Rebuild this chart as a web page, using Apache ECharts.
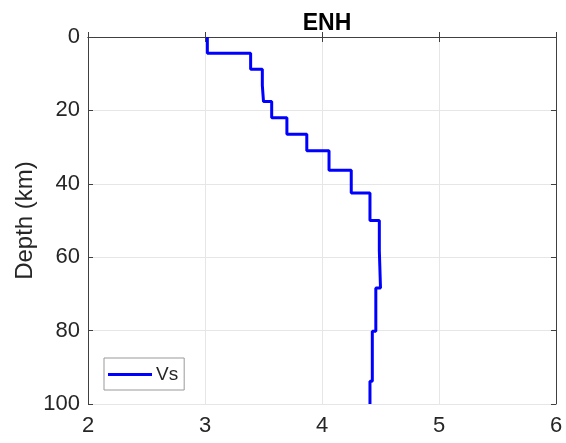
<!DOCTYPE html>
<html>
<head>
<meta charset="utf-8">
<script src="https://cdn.jsdelivr.net/npm/echarts@6/dist/echarts.min.js"></script>
<style>
  html, body { margin: 0; padding: 0; background: #fff; }
  #chart { width: 566px; height: 443px; }
</style>
</head>
<body>
<div id="chart"></div>
<script>
// layer tops (km) and shear velocity per layer (km/s)
const layerTop = [0, 4.4, 8.8, 13.2, 17.6, 22.0, 26.5, 31.0, 36.3, 42.5, 50.0, 58.2, 68.4, 80.2, 93.8]
const bottomDepth = 100
const vs = [3.02, 3.39, 3.49, 3.50, 3.57, 3.70, 3.87, 4.06, 4.25, 4.41, 4.49, 4.50, 4.46, 4.43, 4.41]
const xTicks = [2, 3, 4, 5, 6]
const yTicks = [0, 20, 40, 60, 80, 100]

// step profile: each layer gives a vertical segment
const profile = []
vs.forEach((v, i) => {
  const bot = i < layerTop.length - 1 ? layerTop[i + 1] : bottomDepth
  profile.push([v, layerTop[i]])
  profile.push([v, bot])
})

const txt = "#262626"
const axisCol = "#404040"
const gridCol = "#e6e6e6"
const font = "Liberation Sans, Arial, sans-serif"

const chart = echarts.init(document.getElementById("chart"))
const option = {
  animation: false,
  title: {
    text: "ENH",
    left: 322,
    textAlign: "center",
    top: 7,
    textStyle: { fontSize: 23, fontWeight: "bold", color: "#000", fontFamily: font }
  },
  legend: {
    left: 104,
    top: 358,
    itemWidth: 44,
    itemHeight: 3,
    icon: "rect",
    itemGap: 4,
    padding: [7, 6, 6, 4],
    borderColor: "#999",
    borderWidth: 1,
    backgroundColor: "#fff",
    textStyle: { fontSize: 19, color: txt, fontFamily: font, padding: [0, 0, 0, -1] },
    data: ["Vs"]
  },
  grid: { left: 88, right: 10, top: 37, bottom: 39 },
  xAxis: [
    {
      type: "value",
      min: xTicks[0],
      max: xTicks[xTicks.length - 1],
      interval: 1,
      position: "bottom",
      axisLine: { lineStyle: { color: axisCol, width: 1 } },
      axisTick: { inside: true, length: 5, lineStyle: { color: axisCol } },
      axisLabel: { fontSize: 22, color: txt, margin: 11, fontFamily: font },
      splitLine: { show: true, lineStyle: { color: gridCol } }
    },
    {
      type: "value",
      min: xTicks[0],
      max: xTicks[xTicks.length - 1],
      interval: 1,
      position: "top",
      axisLine: { show: true, lineStyle: { color: axisCol, width: 1 } },
      axisTick: { show: true, inside: true, length: 5, lineStyle: { color: axisCol } },
      axisLabel: { show: false },
      splitLine: { show: false }
    }
  ],
  yAxis: [
    {
      type: "value",
      inverse: true,
      min: yTicks[0],
      max: yTicks[yTicks.length - 1],
      interval: 20,
      position: "left",
      name: "Depth (km)",
      nameLocation: "middle",
      nameGap: 51,
      nameMoveOverlap: false,
      nameTextStyle: { fontSize: 24, color: txt, fontFamily: font },
      axisLine: { show: true, lineStyle: { color: axisCol, width: 1 } },
      axisTick: { show: true, inside: true, length: 5, lineStyle: { color: axisCol } },
      axisLabel: { fontSize: 22, color: txt, margin: 8, fontFamily: font },
      splitLine: { show: true, lineStyle: { color: gridCol } }
    },
    {
      type: "value",
      inverse: true,
      min: yTicks[0],
      max: yTicks[yTicks.length - 1],
      interval: 20,
      position: "right",
      axisLine: { show: true, lineStyle: { color: axisCol, width: 1 } },
      axisTick: { show: true, inside: true, length: 5, lineStyle: { color: axisCol } },
      axisLabel: { show: false },
      splitLine: { show: false }
    }
  ],
  series: [
    {
      name: "Vs",
      type: "line",
      data: profile,
      symbol: "none",
      lineStyle: { color: "#0000ff", width: 3 },
      itemStyle: { color: "#0000ff" }
    }
  ]
}
chart.setOption(option)
</script>
</body>
</html>
